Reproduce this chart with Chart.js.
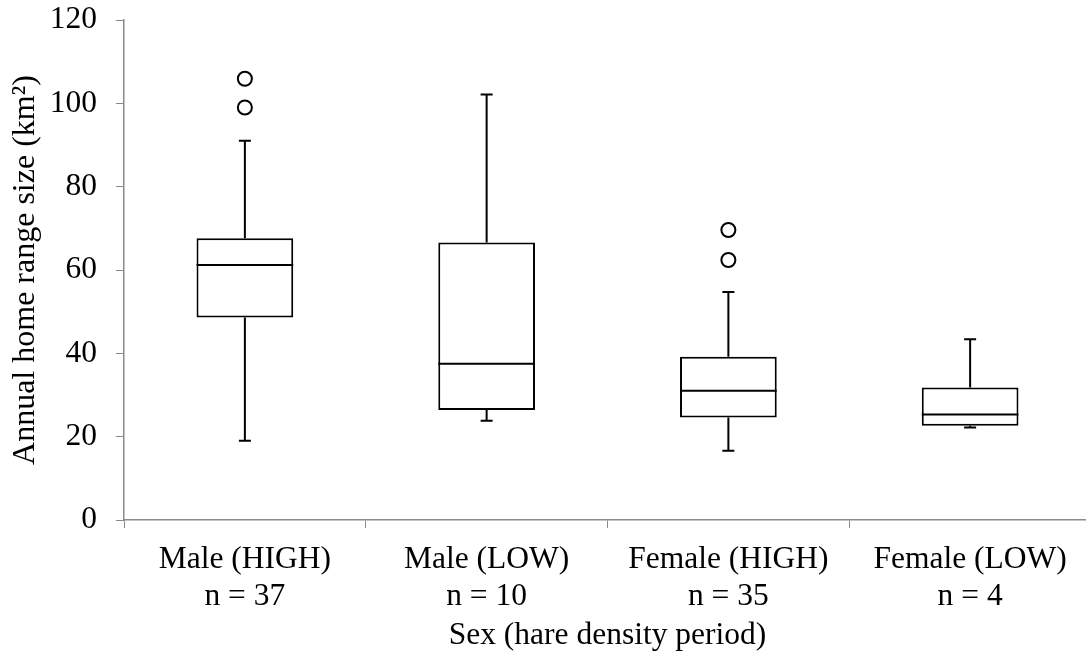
<!DOCTYPE html>
<html>
<head>
<meta charset="utf-8">
<title>Annual home range size by sex and hare density period</title>
<script src="https://cdn.jsdelivr.net/npm/chart.js@4"></script>
<style>
  html, body { margin: 0; padding: 0; background: #fff; overflow: hidden; }
  #wrap { width: 1100px; height: 658px; }
</style>
</head>
<body>
<div id="wrap"><canvas id="rangeChart" width="1100" height="658"></canvas></div>
<script>
// groups on the x axis (second line is the sample size)
const categories = [
    ['Male (HIGH)', 'n = 37'],
    ['Male (LOW)', 'n = 10'],
    ['Female (HIGH)', 'n = 35'],
    ['Female (LOW)', 'n = 4']
];

// box plot summaries, km²
const whiskerLow  = [19.0, 23.8, 16.6, 22.2];
const q1          = [48.6, 26.4, 24.6, 22.6];
const median      = [61.2, 37.5, 31.0, 25.3];
const q3          = [67.6, 66.6, 39.2, 31.8];
const whiskerHigh = [91.0, 102.1, 54.7, 43.4];
const outliers    = [[105.9, 99.0], [], [69.6, 62.4], []];

const yTicks = [0, 20, 40, 60, 80, 100, 120];

const serif = "'Liberation Serif', 'Times New Roman', serif";
const axisGray = '#8a8a8a';

// whiskers + median lines, positioned from the bar elements and y scale
const boxExtras = {
    id: 'boxExtras',
    afterDatasetsDraw(chart) {
        const { ctx } = chart;
        const y = chart.scales.y;
        const meta = chart.getDatasetMeta(0);
        ctx.save();
        ctx.strokeStyle = '#000';
        ctx.lineWidth = 2;
        meta.data.forEach((bar, i) => {
            const cx = bar.x;
            const half = bar.width / 2;
            const capHalf = 6;
            const yQ1 = y.getPixelForValue(q1[i]);
            const yQ3 = y.getPixelForValue(q3[i]);
            const yLo = y.getPixelForValue(whiskerLow[i]);
            const yHi = y.getPixelForValue(whiskerHigh[i]);
            const yMed = y.getPixelForValue(median[i]);

            ctx.beginPath();
            // upper whisker
            ctx.moveTo(cx, yQ3);
            ctx.lineTo(cx, yHi);
            ctx.moveTo(cx - capHalf, yHi);
            ctx.lineTo(cx + capHalf, yHi);
            // lower whisker
            ctx.moveTo(cx, yQ1);
            ctx.lineTo(cx, yLo);
            ctx.moveTo(cx - capHalf, yLo);
            ctx.lineTo(cx + capHalf, yLo);
            // median
            ctx.moveTo(cx - half, yMed);
            ctx.lineTo(cx + half, yMed);
            ctx.stroke();
        });
        ctx.restore();
    }
};

// one point dataset per outlier rank, null where a group has none
const maxOutliers = Math.max(...outliers.map(o => o.length));
const outlierSets = [];
for (let k = 0; k < maxOutliers; k++) {
    outlierSets.push({
        type: 'line',
        label: 'Outliers ' + (k + 1),
        data: outliers.map(o => (o[k] !== undefined ? o[k] : null)),
        showLine: false,
        pointStyle: 'circle',
        pointRadius: 7,
        pointBackgroundColor: '#fff',
        pointBorderColor: '#000',
        pointBorderWidth: 2,
        order: 1
    });
}

new Chart(document.getElementById('rangeChart'), {
    type: 'bar',
    data: {
        labels: categories,
        datasets: [
            {
                label: 'IQR',
                data: q1.map((lo, i) => [lo, q3[i]]),
                backgroundColor: '#fff',
                borderColor: '#000',
                borderWidth: 2,
                borderSkipped: false,
                barPercentage: 0.4,
                categoryPercentage: 1,
                order: 2
            },
            ...outlierSets
        ]
    },
    options: {
        responsive: false,
        animation: false,
        layout: { padding: { top: 20, right: 0, bottom: 0, left: 0 } },
        plugins: {
            legend: { display: false },
            tooltip: { enabled: false }
        },
        scales: {
            x: {
                offset: true,
                grid: {
                    offset: true,
                    drawOnChartArea: false,
                    drawTicks: true,
                    tickLength: 8,
                    color: axisGray
                },
                border: { color: axisGray, width: 1.5 },
                ticks: {
                    color: '#000',
                    padding: 13,
                    font: { family: serif, size: 31.5, lineHeight: 1.175 }
                },
                title: {
                    display: true,
                    text: 'Sex (hare density period)',
                    color: '#000',
                    padding: { top: 0, bottom: 3 },
                    font: { family: serif, size: 31.5, lineHeight: 1.2 }
                },
                afterFit: s => { s.height = 138; }
            },
            y: {
                min: 0,
                max: 120,
                afterBuildTicks: s => { s.ticks = yTicks.map(v => ({ value: v })); },
                grid: {
                    drawOnChartArea: false,
                    drawTicks: true,
                    tickLength: 8,
                    color: axisGray
                },
                border: { color: axisGray, width: 1.5 },
                ticks: {
                    color: '#000',
                    padding: 19,
                    font: { family: serif, size: 31.5, lineHeight: 1.2 }
                },
                title: {
                    display: true,
                    text: 'Annual home range size (km²)',
                    color: '#000',
                    padding: { top: 6, bottom: 0 },
                    font: { family: serif, size: 32, lineHeight: 1.2 }
                },
                afterFit: s => {
                    s.width = 124;
                    // let the top tick label overhang the padding
                    s.paddingTop = 0;
                    s.paddingBottom = 0;
                }
            }
        }
    },
    plugins: [boxExtras]
});
</script>
</body>
</html>
